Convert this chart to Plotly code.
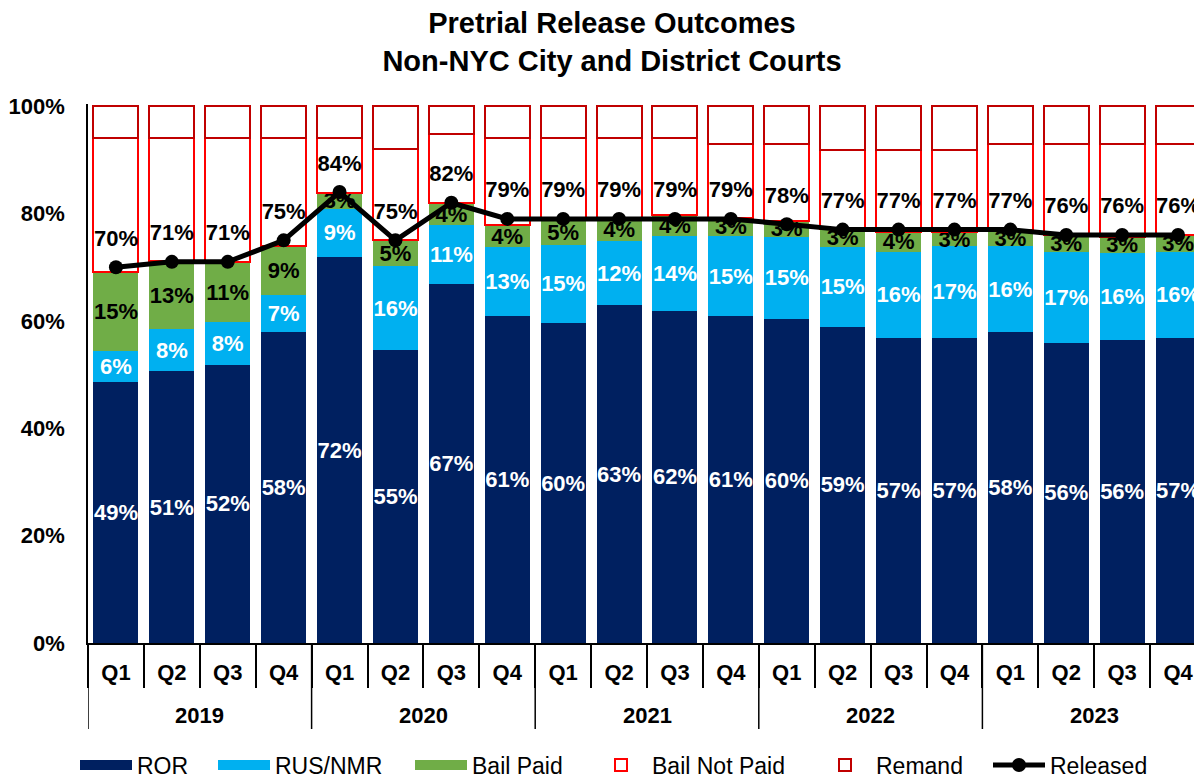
import plotly.graph_objects as go

year_names = ["2019", "2020", "2021", "2022", "2023"]
quarter_names = ["Q1", "Q2", "Q3", "Q4"]
years = [y for y in year_names for _ in quarter_names]
quarters = quarter_names * len(year_names)

ror = [48.6, 50.6, 51.8, 58.0, 71.9, 54.6, 66.9, 60.9, 59.6, 62.9,
       61.9, 60.9, 60.4, 58.9, 56.9, 56.9, 57.9, 55.9, 56.4, 56.9]
rus_nmr = [5.7, 7.9, 8.0, 6.8, 9.0, 15.6, 10.9, 12.9, 14.6, 12.0,
           14.0, 14.9, 15.2, 14.9, 16.0, 17.0, 16.0, 17.0, 16.2, 16.0]
bail_paid = [14.9, 12.6, 11.1, 9.1, 3.0, 4.8, 4.1, 4.0, 4.6, 4.2,
             3.9, 3.4, 3.1, 3.3, 3.7, 2.7, 3.0, 3.1, 3.1, 3.1]
bail_not_paid = [24.8, 22.9, 23.1, 20.1, 10.1, 17.0, 13.0, 16.2, 15.2, 14.9,
                 14.2, 13.7, 14.2, 14.8, 15.3, 15.3, 16.0, 16.9, 17.2, 16.9]
remand = [6.0, 6.0, 6.0, 6.0, 6.0, 8.0, 5.1, 6.0, 6.0, 6.0,
          6.0, 7.1, 7.1, 8.1, 8.1, 8.1, 7.1, 7.1, 7.1, 7.1]
released = [70, 71, 71, 75, 84, 75, 82, 79, 79, 79,
            79, 79, 78, 77, 77, 77, 77, 76, 76, 76]

y_ticks = [0, 20, 40, 60, 80, 100]
y_tick_labels = ["0%", "20%", "40%", "60%", "80%", "100%"]

FONT = "Liberation Sans, Arial, sans-serif"
W, H = 1202, 775
OFF = 8  # page offset of the figure inside the browser window
ML, MR, MT, MB = 88 - OFF, 4, 104 - OFF, H - (643 - OFF)
PLOT_H = H - MT - MB
BOTTOM = H - MB
LEGEND_ITEM_X = [75, 213, 410, 590, 814, 988]  # screen px of each legend entry
LEGEND_NAMES = ["legend", "legend2", "legend3", "legend4", "legend5", "legend6"]


def below(screen_y):
    """paper y for a screen y below the plot bottom"""
    return -((screen_y - OFF) - BOTTOM) / PLOT_H


x = [f"{y} {q}" for y, q in zip(years, quarters)]

fig = go.Figure()


def bar(name, vals, fill, legend, text_color=None, line_color=None, show_text=True):
    if show_text:
        kw = dict(texttemplate="%{y:.0f}%", textposition="inside",
                  insidetextanchor="middle", textangle=0,
                  textfont=dict(family=FONT, size=22, color=text_color, weight="bold"))
    else:
        kw = dict(textposition="none")
    fig.add_trace(go.Bar(
        name=name, x=x, y=vals, legendgroup=name,
        showlegend=bool(line_color), legend=legend,
        marker=dict(color=fill,
                    line=dict(color=line_color or fill, width=2 if line_color else 0)),
        **kw))
    if not line_color:
        # wide legend swatch
        fig.add_trace(go.Scatter(
            name=name, x=[None], y=[None], mode="lines", legendgroup=name,
            legend=legend, line=dict(color=fill, width=12), hoverinfo="skip"))


bar("ROR", ror, "#002060", "legend", text_color="white")
bar("RUS/NMR", rus_nmr, "#00B0F0", "legend2", text_color="white")
bar("Bail Paid", bail_paid, "#70AD47", "legend3", text_color="black")
bar("Bail Not Paid", bail_not_paid, "white", "legend4", line_color="#FF0000", show_text=False)
bar("Remand", remand, "white", "legend5", line_color="#C00000", show_text=False)

fig.add_trace(go.Scatter(
    name="Released", x=x, y=released, mode="lines+markers", legend="legend6",
    line=dict(color="black", width=5),
    marker=dict(color="black", size=14),
))
fig.add_trace(go.Scatter(
    x=x, y=released, mode="markers+text", showlegend=False, hoverinfo="skip",
    marker=dict(color="rgba(0,0,0,0)", size=24),
    texttemplate="%{y}%", textposition="top center",
    textfont=dict(family=FONT, size=22, color="black", weight="bold"),
))

# year group labels and dividers on the category axis
n_q = len(quarter_names)
for gi, yname in enumerate(year_names):
    center = gi * n_q + (n_q - 1) / 2
    fig.add_annotation(
        x=center, xref="x", y=below(715), yref="paper",
        text=yname, showarrow=False, yanchor="middle",
        font=dict(family=FONT, size=22, color="black", weight="bold"),
    )
    left = gi * n_q - 0.5
    fig.add_shape(
        type="line", xref="x", yref="paper", x0=left, x1=left,
        y0=0, y1=below(729),
        line=dict(color="black", width=1.5),
    )

legends = {}
for lname, sx in zip(LEGEND_NAMES, LEGEND_ITEM_X):
    legends[lname] = dict(
        orientation="h", x=(sx - OFF) / W, xanchor="left", xref="container",
        y=below(765), yanchor="middle", yref="paper",
        font=dict(family=FONT, size=23, color="black"),
        itemwidth=52, bgcolor="rgba(0,0,0,0)", borderwidth=0,
    )

fig.update_layout(
    barmode="stack",
    bargap=0.195,
    width=W, height=H,
    margin=dict(l=ML, r=MR, t=MT, b=MB, autoexpand=False),
    paper_bgcolor="white", plot_bgcolor="white",
    font=dict(family=FONT, color="black"),
    uniformtext=dict(minsize=22, mode="show"),
    title=dict(
        text="Pretrial Release Outcomes<br>Non-NYC City and District Courts",
        x=(612 - OFF) / W, xanchor="center", xref="container",
        y=1 - 25 / H, yanchor="top", yref="container",
        font=dict(family=FONT, size=29, color="black", weight="bold"),
    ),
    showlegend=True,
    **legends,
)

fig.update_xaxes(
    type="category",
    categoryorder="array", categoryarray=x,
    tickvals=x, ticktext=quarters,
    range=[-0.5, 19.5],
    automargin=False,
    showline=True, linecolor="black", linewidth=1.5,
    ticks="outside", tickson="boundaries", ticklen=43, tickcolor="black", tickwidth=1.5,
    ticklabelstandoff=9,
    tickfont=dict(family=FONT, size=22, color="black", weight="bold"),
    showgrid=False,
)
fig.update_yaxes(
    range=[0, 100.4],
    automargin=False,
    tickvals=y_ticks, ticktext=y_tick_labels,
    showline=True, linecolor="black", linewidth=1.5,
    showgrid=False, zeroline=False, ticks="",
    ticklabelstandoff=17,
    tickfont=dict(family=FONT, size=22, color="black", weight="bold"),
)

fig.write_html("out.html")
